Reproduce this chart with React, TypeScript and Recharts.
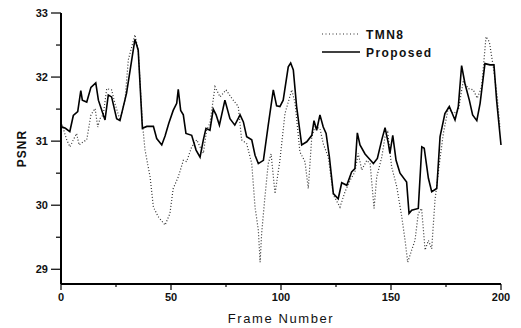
import { LineChart, Line, XAxis, YAxis } from "recharts";

// frame numbers and PSNR values
const proposedFrames = [
  0, 2, 4, 5.6, 7.6, 9, 9.7, 11.7, 13.6, 15.8, 17, 19.2, 20, 21.5, 23, 25.3, 26.8, 29.8, 33.6, 35.1,
  37, 39, 42, 43.5, 45.8, 47.3, 49, 51, 52.6, 53.3, 54.4, 55.6, 56.8, 59.4, 61.4, 63.2, 64.7, 65.9,
  67.7, 69.2, 70.5, 72, 74.5, 76.8, 79, 81.4, 82.9, 84.4, 86.7, 88.2, 89.7, 92, 94.2, 96.5, 98, 99.5,
  101, 103.3, 104.4, 105.6, 107.1, 109.4, 111.7, 114, 115, 116.2, 117.7, 119.2, 120.5, 122, 123.8,
  126, 127.6, 129.9, 132.1, 133.6, 134.7, 135.9, 138.2, 140.5, 142, 143.8, 145.8, 147.3, 148.8,
  149.5, 150.8, 152.3, 154.1, 157.1, 158.2, 159.4, 162.4, 164, 165.1, 167, 168.5, 170.8, 172.3,
  174.5, 176.5, 179.1, 180.6, 182.1, 183.6, 185.6, 187.1, 189, 190.5, 192.7, 195, 196.8, 198, 200,
];
const proposedPsnr = [
  31.23, 31.2, 31.15, 31.4, 31.46, 31.79, 31.64, 31.61, 31.84, 31.91, 31.64, 31.41, 31.33, 31.72,
  31.69, 31.35, 31.32, 31.75, 32.59, 32.42, 31.2, 31.23, 31.23, 31.04, 30.94, 31.08, 31.28, 31.48,
  31.59, 31.81, 31.48, 31.41, 31.12, 31.09, 30.86, 30.75, 31.02, 31.2, 31.17, 31.5, 31.41, 31.25,
  31.64, 31.35, 31.25, 31.41, 31.3, 31.07, 31.02, 30.78, 30.65, 30.7, 31.25, 31.8, 31.55, 31.54,
  31.64, 32.16, 32.22, 32.11, 31.54, 30.94, 30.99, 31.09, 31.32, 31.17, 31.41, 31.22, 31.12, 30.75,
  30.18, 30.1, 30.35, 30.31, 30.52, 30.57, 31.13, 30.94, 30.8, 30.71, 30.65, 30.73, 31.02, 31.21,
  30.96, 30.81, 31.09, 30.7, 30.5, 30.36, 29.87, 29.92, 29.95, 30.91, 30.89, 30.42, 30.21, 30.26,
  31.07, 31.43, 31.54, 31.33, 31.54, 32.18, 31.9, 31.64, 31.41, 31.32, 31.59, 32.21, 32.19, 32.19,
  31.64, 30.94,
];

const tmnFrames = [
  0, 1, 2.6, 4.1, 5.6, 7.1, 8.2, 10.1, 11.7, 13.6, 15.5, 16.7, 17.7, 19.2, 20.8, 23, 24.5, 26.8,
  29.1, 30.6, 33.6, 35.1, 37, 38.2, 40.5, 42, 44.2, 47.3, 49.5, 51, 53.3, 55.6, 57.1, 59.4, 61.7,
  63.2, 64.7, 66.2, 67.7, 70, 72.3, 75, 77.6, 80.6, 82.1, 84.4, 86.7, 88.2, 89.7, 90.5, 91.2, 92.7,
  94.2, 95.5, 97.3, 99.5, 101.8, 104.9, 106.4, 108.6, 110.9, 112.4, 114, 115.5, 117.7, 119.2, 121.5,
  123.8, 126.8, 129.1, 131.4, 133.6, 135.1, 136.7, 139, 140.5, 142.3, 143.5, 145.8, 147.3, 148.5,
  150.3, 152.6, 154.9, 156.4, 157.6, 159.4, 160.9, 162.4, 163.9, 165.5, 167, 168.5, 170, 172, 173.8,
  176, 178.3, 180.6, 182.9, 185.1, 187.4, 189.2, 191.2, 193.2, 194.7, 196.5, 198.3, 199.5,
];
const tmnPsnr = [
  31.3, 31.2, 31.02, 30.91, 31.02, 31.12, 30.94, 30.99, 31.02, 31.41, 31.51, 31.22, 31.35, 31.41,
  31.82, 31.8, 31.59, 31.33, 31.64, 32.27, 32.66, 32.42, 31.28, 30.86, 30.44, 29.97, 29.82, 29.69,
  29.87, 30.26, 30.44, 30.7, 30.68, 30.91, 31.02, 30.91, 30.81, 31.17, 31.28, 31.85, 31.69, 31.8,
  31.67, 31.54, 31.02, 30.96, 30.65, 29.97, 29.61, 29.11, 29.56, 30.13, 30.65, 30.8, 30.18, 30.7,
  31.43, 31.8, 31.59, 30.83, 30.68, 30.26, 31.07, 31.22, 31.2, 30.96, 30.75, 30.16, 29.97, 30.21,
  30.39, 30.52, 30.81, 30.55, 30.7, 30.65, 29.95, 30.44, 30.75, 31.07, 31.14, 30.6, 30.29, 29.82,
  29.45, 29.11, 29.3, 29.45, 29.87, 29.95, 29.3, 29.45, 29.32, 30.08, 30.65, 31.12, 31.51, 31.43,
  31.48, 31.95, 31.82, 31.8, 31.67, 31.85, 32.63, 32.55, 32.16, 31.69, 31.22,
];

const xTicks = [0, 25, 50, 75, 100, 125, 150, 175, 200];
const yTicks = [29, 29.5, 30, 30.5, 31, 31.5, 32, 32.5, 33];

const proposedData = proposedFrames.map((f, i) => ({ frame: f, psnr: proposedPsnr[i] }));
const tmnData = tmnFrames.map((f, i) => ({ frame: f, psnr: tmnPsnr[i] }));

const FONT = "'Liberation Sans', Arial, sans-serif";

function XTick(props: any) {
  const { x, y, payload } = props;
  const axisY = y - 11;
  const major = payload.value % 50 === 0;
  return (
    <g>
      <line x1={x} x2={x} y1={axisY} y2={axisY + (major ? 6 : 3)} stroke="#000" strokeWidth={1.2} />
      {major && (
        <text x={x} y={y + 6} textAnchor="middle" fontSize={11} fontWeight="bold" fontFamily={FONT} fill="#111">
          {payload.value}
        </text>
      )}
    </g>
  );
}

function YTick(props: any) {
  const { x, y, payload } = props;
  const axisX = x + 13;
  const major = Number.isInteger(payload.value);
  return (
    <g>
      <line x1={axisX} x2={axisX - (major ? 10 : 5)} y1={y} y2={y} stroke="#000" strokeWidth={1.2} />
      {major && (
        <text x={x} y={y + 4} textAnchor="end" fontSize={11} fontWeight="bold" fontFamily={FONT} fill="#111">
          {payload.value}
        </text>
      )}
    </g>
  );
}

// legend drawn as an overlay so it doesn't eat plot space
function LegendBox() {
  return (
    <svg width={130} height={36} style={{ position: "absolute", left: 320, top: 26 }}>
      <line x1={2} x2={40} y1={8} y2={8} stroke="#333" strokeWidth={1.2} strokeDasharray="1 2.5" />
      <text x={46} y={12.5} fontSize={12} fontWeight="bold" letterSpacing={1.4} fontFamily={FONT} fill="#111">
        TMN8
      </text>
      <line x1={2} x2={40} y1={26} y2={26} stroke="#000" strokeWidth={1.4} />
      <text x={46} y={30.5} fontSize={12} fontWeight="bold" letterSpacing={1.4} fontFamily={FONT} fill="#111">
        Proposed
      </text>
    </svg>
  );
}

export default function App() {
  return (
    <div style={{ position: "absolute", left: 0, top: 0, width: 521, height: 328, background: "#fff" }}>
      <LineChart width={521} height={328} margin={{ top: 13, right: 20, bottom: 0, left: 0 }}>
        <XAxis
          dataKey="frame"
          type="number"
          domain={[0, 200]}
          ticks={xTicks}
          interval={0}
          allowDuplicatedCategory={false}
          height={44}
          tickSize={6}
          tickMargin={5}
          tickLine={false}
          tick={<XTick />}
          axisLine={{ stroke: "#000", strokeWidth: 2 }}
          label={{
            content: ({ viewBox }: any) => (
              <text
                x={viewBox.x + viewBox.width / 2}
                y={viewBox.y + 39}
                textAnchor="middle"
                fontSize={13}
                letterSpacing={1.6}
                fontFamily={FONT}
                fill="#111"
              >
                Frame Number
              </text>
            ),
          }}
        />
        <YAxis
          dataKey="psnr"
          type="number"
          domain={[28.77, 33]}
          allowDataOverflow
          ticks={yTicks}
          interval={0}
          width={61}
          tickSize={10}
          tickMargin={3}
          tickLine={false}
          tick={<YTick />}
          axisLine={{ stroke: "#000", strokeWidth: 2 }}
          label={{
            content: ({ viewBox }: any) => {
              const cx = viewBox.x + 22;
              const cy = viewBox.y + viewBox.height / 2;
              return (
                <text
                  x={cx}
                  y={cy}
                  transform={`rotate(-90 ${cx} ${cy})`}
                  textAnchor="middle"
                  dominantBaseline="central"
                  fontSize={12}
                  fontWeight="bold"
                  letterSpacing={1}
                  fontFamily={FONT}
                  fill="#111"
                >
                  PSNR
                </text>
              );
            },
          }}
        />
        <Line
          data={tmnData}
          dataKey="psnr"
          name="TMN8"
          stroke="#333"
          strokeWidth={1.2}
          strokeDasharray="1 2"
          dot={false}
          isAnimationActive={false}
        />
        <Line
          data={proposedData}
          dataKey="psnr"
          name="Proposed"
          stroke="#000"
          strokeWidth={1.6}
          dot={false}
          isAnimationActive={false}
        />
      </LineChart>
      <LegendBox />
    </div>
  );
}
